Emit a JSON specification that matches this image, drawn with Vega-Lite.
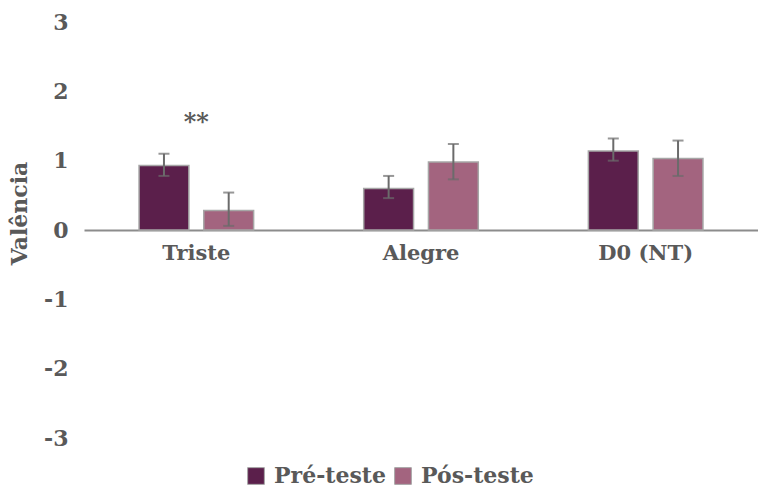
{
  "$schema": "https://vega.github.io/schema/vega-lite/v6.json",
  "width": 674,
  "height": 416,
  "autosize": "none",
  "padding": {"left": 84, "top": 22, "right": 0, "bottom": 49},
  "background": "white",
  "config": {
    "view": {"stroke": null},
    "font": "DejaVu Serif",
    "axis": {"labelFont": "DejaVu Serif", "titleFont": "DejaVu Serif", "labelColor": "#595959", "titleColor": "#595959"}
  },
  "datasets": {
    "bars": [
      {"categoria": "Triste", "grupo": "Pré-teste", "valencia": 0.93, "lo": 0.78, "hi": 1.10},
      {"categoria": "Triste", "grupo": "Pós-teste", "valencia": 0.28, "lo": 0.06, "hi": 0.54},
      {"categoria": "Alegre", "grupo": "Pré-teste", "valencia": 0.60, "lo": 0.46, "hi": 0.78},
      {"categoria": "Alegre", "grupo": "Pós-teste", "valencia": 0.98, "lo": 0.73, "hi": 1.24},
      {"categoria": "D0 (NT)", "grupo": "Pré-teste", "valencia": 1.14, "lo": 1.00, "hi": 1.32},
      {"categoria": "D0 (NT)", "grupo": "Pós-teste", "valencia": 1.03, "lo": 0.78, "hi": 1.29}
    ],
    "notes": [
      {"categoria": "Triste", "valencia": 1.54, "label": "**"}
    ]
  },
  "encoding": {
    "x": {
      "field": "categoria", "type": "nominal", "sort": ["Triste", "Alegre", "D0 (NT)"],
      "scale": {"paddingInner": 0.49, "paddingOuter": 0.245},
      "axis": {"title": null, "labelAngle": 0, "ticks": false, "domain": true, "domainColor": "#8c8c8c", "domainWidth": 2, "offset": -208, "labelFontSize": 21, "labelFontWeight": "bold", "labelPadding": 12}
    }
  },
  "layer": [
    {
      "data": {"name": "bars"},
      "mark": {"type": "bar", "stroke": "#a6a6a6", "strokeWidth": 1.5},
      "encoding": {
        "xOffset": {"field": "grupo", "type": "nominal", "sort": ["Pré-teste", "Pós-teste"], "scale": {"paddingInner": 0.23, "paddingOuter": 0}},
        "y": {
          "field": "valencia", "type": "quantitative",
          "scale": {"domain": [-3, 3], "nice": false},
          "axis": {"title": "Valência", "values": [-3, -2, -1, 0, 1, 2, 3], "labelExpr": "'' + datum.value", "grid": false, "domain": false, "ticks": false, "labelFontSize": 22, "labelFontWeight": "bold", "labelPadding": 16, "titleFontSize": 22, "titleFontWeight": "bold", "titleX": -65, "titleY": 191, "titleAngle": -90, "titleAlign": "center", "titleBaseline": "middle"}
        },
        "color": {
          "field": "grupo", "type": "nominal", "sort": ["Pré-teste", "Pós-teste"],
          "scale": {"domain": ["Pré-teste", "Pós-teste"], "range": ["#5b1f4b", "#a3647f"]},
          "legend": {"title": null, "orient": "none", "direction": "horizontal", "legendX": 161, "legendY": 443, "symbolType": "square", "symbolSize": 280, "symbolStrokeColor": "#a6a6a6", "symbolStrokeWidth": 1, "labelFontSize": 22, "labelFontWeight": "bold", "labelColor": "#595959", "labelFont": "DejaVu Serif", "columnPadding": 6, "labelOffset": 7}
        }
      }
    },
    {
      "data": {"name": "bars"},
      "mark": {"type": "rule", "color": "#6b6b6b", "strokeWidth": 2},
      "encoding": {
        "xOffset": {"field": "grupo", "type": "nominal", "sort": ["Pré-teste", "Pós-teste"]},
        "y": {"field": "lo", "type": "quantitative"},
        "y2": {"field": "hi"}
      }
    },
    {
      "data": {"name": "bars"},
      "mark": {"type": "tick", "color": "#6b6b6b", "thickness": 2, "size": 11},
      "encoding": {
        "xOffset": {"field": "grupo", "type": "nominal", "sort": ["Pré-teste", "Pós-teste"]},
        "y": {"field": "lo", "type": "quantitative"}
      }
    },
    {
      "data": {"name": "bars"},
      "mark": {"type": "tick", "color": "#6b6b6b", "thickness": 2, "size": 11},
      "encoding": {
        "xOffset": {"field": "grupo", "type": "nominal", "sort": ["Pré-teste", "Pós-teste"]},
        "y": {"field": "hi", "type": "quantitative"}
      }
    },
    {
      "data": {"name": "notes"},
      "mark": {"type": "text", "fontSize": 24, "color": "#595959", "fontWeight": "bold", "baseline": "middle"},
      "encoding": {
        "y": {"field": "valencia", "type": "quantitative"},
        "text": {"field": "label"}
      }
    }
  ]
}
